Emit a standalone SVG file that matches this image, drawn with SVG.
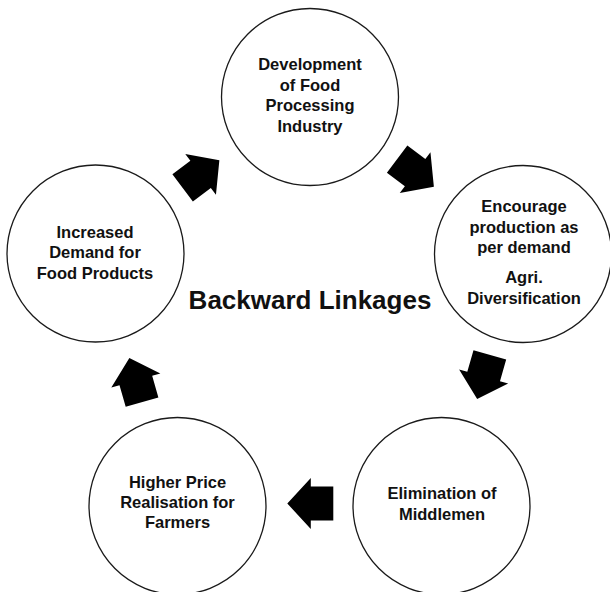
<svg xmlns="http://www.w3.org/2000/svg" xmlns:xlink="http://www.w3.org/1999/xlink" width="610" height="592" viewBox="0 0 610 592">
  <style>
    .node circle { fill: #ffffff; stroke: #1a1a1a; stroke-width: 1.3; }
    .lbl { font-family: "Liberation Sans", Arial, sans-serif; font-weight: bold; font-size: 16.5px; fill: #111111; text-anchor: middle; }
    .title { font-family: "Liberation Sans", Arial, sans-serif; font-weight: bold; font-size: 26px; fill: #111111; text-anchor: middle; }
    .arrow { fill: #000000; }
  </style>
  <defs>
    <polygon id="blockArrow" class="arrow" points="23,0 -0.5,-25.5 -0.5,-17 -23,-17 -23,17 -0.5,17 -0.5,25.5"/>
  </defs>
  <rect x="0" y="0" width="610" height="592" fill="#ffffff"/>

  <g id="connectors">
    <use xlink:href="#blockArrow" transform="translate(201,174) rotate(-37)"/>
    <use xlink:href="#blockArrow" transform="translate(415.5,173) rotate(37)"/>
    <use xlink:href="#blockArrow" transform="translate(483.5,377) rotate(106)"/>
    <use xlink:href="#blockArrow" transform="translate(310.3,503.5) rotate(180)"/>
    <use xlink:href="#blockArrow" transform="translate(135.7,380) rotate(-106)"/>
  </g>

  <g id="node-development" class="node">
    <circle cx="310" cy="97" r="88.5"/>
    <text class="lbl" x="310" y="70">Development</text>
    <text class="lbl" x="310" y="91">of Food</text>
    <text class="lbl" x="310" y="111">Processing</text>
    <text class="lbl" x="310" y="132">Industry</text>
  </g>

  <g id="node-encourage" class="node">
    <circle cx="523" cy="254" r="88.5"/>
    <text class="lbl" x="524" y="212">Encourage</text>
    <text class="lbl" x="524" y="232.5">production as</text>
    <text class="lbl" x="524" y="253">per demand</text>
    <text class="lbl" x="524" y="283">Agri.</text>
    <text class="lbl" x="524" y="303.5">Diversification</text>
  </g>

  <g id="node-elimination" class="node">
    <circle cx="441.5" cy="506" r="88.5"/>
    <text class="lbl" x="442" y="499">Elimination of</text>
    <text class="lbl" x="442" y="520">Middlemen</text>
  </g>

  <g id="node-higher-price" class="node">
    <circle cx="177.5" cy="506" r="88.5"/>
    <text class="lbl" x="177.5" y="488">Higher Price</text>
    <text class="lbl" x="177.5" y="508">Realisation for</text>
    <text class="lbl" x="177.5" y="528">Farmers</text>
  </g>

  <g id="node-increased-demand" class="node">
    <circle cx="95.5" cy="253.5" r="88.5"/>
    <text class="lbl" x="95" y="237.5">Increased</text>
    <text class="lbl" x="95" y="258">Demand for</text>
    <text class="lbl" x="95" y="278.5">Food Products</text>
  </g>

  <g id="title">
    <text class="title" x="310" y="309">Backward Linkages</text>
  </g>
</svg>
